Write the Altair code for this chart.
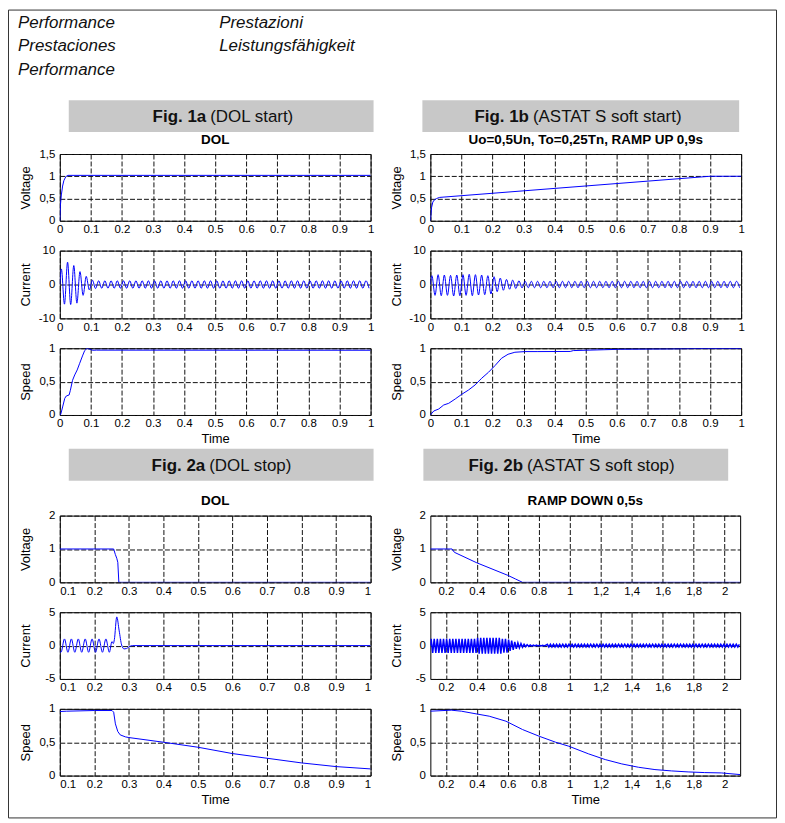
import json
import pandas as pd
import altair as alt

# ---------------- data ----------------
# Fig. 1a  (DOL start)
v1a_t = [0, 0.002, 0.005, 0.009, 0.013, 0.017, 0.021, 0.026, 1.0]
v1a_v = [0, 0.35, 0.58, 0.78, 0.90, 0.96, 1.0, 1.02, 1.02]
i1a_peaks = [4.6, -5.8, 6.6, -5.9, 5.6, -5.5, 3.8, -3.2, 2.4, -1.6, 1.3, -1.2] + [1.1, -1.1] * 44
s1a_t = [0, 0.003, 0.009, 0.016, 0.021, 0.03, 0.034, 0.041, 0.048, 0.056, 0.064, 0.073, 0.08, 0.088, 0.096, 0.105, 0.118, 1.0]
s1a_v = [0, 0.01, 0.12, 0.25, 0.285, 0.30, 0.37, 0.52, 0.60, 0.675, 0.775, 0.885, 0.965, 1.0, 0.985, 0.97, 0.972, 0.97]

# Fig. 1b  (ASTAT S soft start)
v1b_t = [0, 0.002, 0.004, 0.008, 0.013, 0.02, 0.03, 0.9, 1.0]
v1b_v = [0, 0.15, 0.30, 0.42, 0.47, 0.50, 0.525, 1.0, 1.0]
i1b_peaks = ([2.6, -3.2, 2.9, -3.3, 2.8, -3.2, 2.7, -3.4, 2.8, -3.3,
              2.9, -3.2, 3.0, -3.3, 2.9, -3.1, 2.8, -3.0, 2.6, -2.8]
             + [2.3, -2.1, 1.9, -1.7, 1.5, -1.4, 1.3, -1.2, 1.1, -1.0]
             + [0.95, -0.95] * 35)
s1b_t = [0, 0.011, 0.027, 0.043, 0.059, 0.08, 0.101, 0.123, 0.144, 0.165, 0.187, 0.208, 0.229,
         0.25, 0.272, 0.304, 0.346, 0.45, 0.46, 0.613, 0.773, 0.85, 1.0]
s1b_v = [0, 0.06, 0.09, 0.15, 0.175, 0.24, 0.31, 0.375, 0.45, 0.55, 0.64, 0.74, 0.85,
         0.91, 0.94, 0.95, 0.95, 0.952, 0.965, 0.985, 0.99, 0.995, 0.995]

# Fig. 2a  (DOL stop)
v2a_t = [0.1, 0.256, 0.261, 0.265, 0.268, 0.271, 1.0]
v2a_v = [1.0, 1.0, 0.83, 0.72, 0.60, 0.0, 0.0]
i2a_t = [0.1, 0.1035, 0.1135, 0.1235, 0.1335, 0.1435, 0.1535, 0.1635, 0.1735, 0.1835, 0.1935,
         0.2035, 0.2135, 0.2235, 0.2335, 0.2435, 0.251, 0.255, 0.258, 0.265, 0.272, 0.279,
         0.286, 0.293, 0.30, 0.31, 1.0]
i2a_v = [-0.9, -1.0, 1.0, -1.0, 1.0, -1.0, 1.0, -1.0, 1.0, -1.0, 1.0,
         -1.0, 1.0, -1.0, 1.0, -1.0, 0.6, 0.3, 0.9, 4.3, 2.2, 0.1,
         -0.5, -0.45, -0.2, 0.0, 0.0]
s2a_t = [0.1, 0.12, 0.2, 0.2513, 0.256, 0.261, 0.268, 0.275, 0.29, 0.3, 0.4, 0.5, 0.6, 0.7, 0.8, 0.9, 1.0]
s2a_v = [0.96, 0.965, 0.975, 0.975, 0.95, 0.775, 0.66, 0.61, 0.58, 0.57, 0.50, 0.425, 0.33, 0.26, 0.19, 0.135, 0.10]

# Fig. 2b  (ASTAT S soft stop)
v2b_t = [0.1, 0.24, 0.255, 0.4, 0.6, 0.65, 0.695, 2.1]
v2b_v = [1.0, 1.0, 0.9, 0.585, 0.21, 0.1, 0.0, 0.0]
i2b_peaks = ([1.0, -1.1] * 15 + [1.15, -1.2] * 8 + [1.0, -1.05] * 2
             + [0.9, -0.8, 0.75, -0.65, 0.55, -0.5, 0.42, -0.35, 0.3, -0.25, 0.2, -0.17, 0.15,
                -0.12, 0.1, -0.08, 0.07, -0.06, 0.06, -0.05, 0.05, -0.05, 0.05, -0.05, 0.05]
             + [0.2, -0.2] * 62 + [0.2])
s2b_t = [0.1, 0.235, 0.3, 0.395, 0.48, 0.588, 0.695, 0.802, 0.909, 0.994, 1.122, 1.229, 1.336,
         1.443, 1.55, 1.657, 1.764, 1.871, 1.978, 2.1]
s2b_v = [0.965, 0.98, 0.965, 0.925, 0.89, 0.815, 0.69, 0.59, 0.50, 0.44, 0.325, 0.24, 0.175,
         0.125, 0.09, 0.07, 0.055, 0.045, 0.04, 0.015]

HALF_PERIOD = 0.01  # 50 Hz mains

# tick values / labels
x1_vals = [0, 0.1, 0.2, 0.3, 0.4, 0.5, 0.6, 0.7, 0.8, 0.9, 1.0]
x1_labs = ["0", "0.1", "0.2", "0.3", "0.4", "0.5", "0.6", "0.7", "0.8", "0.9", "1"]
x2a_vals = [0.1, 0.2, 0.3, 0.4, 0.5, 0.6, 0.7, 0.8, 0.9, 1.0]
x2a_labs = ["0.1", "0.2", "0.3", "0.4", "0.5", "0.6", "0.7", "0.8", "0.9", "1"]
x2b_vals = [0.2, 0.4, 0.6, 0.8, 1.0, 1.2, 1.4, 1.6, 1.8, 2.0]
x2b_labs = ["0.2", "0.4", "0.6", "0.8", "1", "1,2", "1,4", "1,6", "1,8", "2"]
yv1_vals, yv1_labs = [0, 0.5, 1, 1.5], ["0", "0,5", "1", "1,5"]
yi1_vals, yi1_labs = [-10, 0, 10], ["-10", "0", "10"]
ys_vals, ys_labs = [0, 0.5, 1], ["0", "0,5", "1"]
yv2_vals, yv2_labs = [0, 1, 2], ["0", "1", "2"]
yi2_vals, yi2_labs = [-5, 0, 5], ["-5", "0", "5"]

header_left = ["Performance", "Prestaciones", "Performance"]
header_right = ["Prestazioni", "Leistungsfähigkeit"]

# ---------------- styling ----------------
FONT = "Liberation Sans, Arial, sans-serif"
BLUE = "#0000ff"
BAR = "#c8c8c8"
W = 312


def label_expr(values, labels):
    return f"{json.dumps(labels)}[indexof({json.dumps(values)}, datum.value)]"


def wave(t_first, v_first, t0, peaks):
    t = [t_first] + [round(t0 + HALF_PERIOD * k, 6) for k in range(len(peaks))]
    v = [v_first] + list(peaks)
    return t, v


def plot(t, v, xdom, xv, xl, ydom, yv, yl, ytitle, h, xtitle=None, title=None,
         interp="linear", width=W, flush=False, sw=1):
    df = pd.DataFrame({"t": t, "v": v})
    ch = alt.Chart(df).mark_line(color=BLUE, strokeWidth=sw, interpolate=interp, clip=True).encode(
        x=alt.X("t:Q", scale=alt.Scale(domain=xdom, nice=False, zero=False),
                axis=alt.Axis(values=xv, labelExpr=label_expr(xv, xl), title=xtitle, labelFlush=flush)),
        y=alt.Y("v:Q", scale=alt.Scale(domain=ydom, nice=False, zero=False),
                axis=alt.Axis(values=yv, labelExpr=label_expr(yv, yl), title=ytitle)),
    )
    props = dict(width=width, height=h, view=alt.ViewBackground(stroke="black", strokeWidth=1))
    if title:
        props["title"] = alt.TitleParams(text=title)
    return ch.properties(**props)


one = pd.DataFrame({"a": [0]})


def bar_cell(x1, x2, y1, y2, bold, rest, xb, xr, yb, h):
    base = alt.Chart(one)
    rect = base.mark_rect(color=BAR).encode(x=alt.value(x1), x2=alt.value(x2),
                                            y=alt.value(y1), y2=alt.value(y2))
    t1 = base.mark_text(text=bold, font=FONT, fontSize=17, fontWeight="bold", align="right",
                        baseline="alphabetic", color="#111").encode(x=alt.value(xb), y=alt.value(yb))
    t2 = base.mark_text(text=rest, font=FONT, fontSize=17, align="left",
                        baseline="alphabetic", color="#111").encode(x=alt.value(xr), y=alt.value(yb))
    return alt.layer(rect, t1, t2).properties(width=W, height=h)


# header cell (with page border)
hbase = alt.Chart(one)
border = hbase.mark_rect(fillOpacity=0, stroke="#333", strokeWidth=1).encode(
    x=alt.value(-51.5), x2=alt.value(719.5), y=alt.value(0.5), y2=alt.value(811.5))
hl = [hbase.mark_text(text=s, font=FONT, fontSize=17, fontStyle="italic", align="left",
                      baseline="alphabetic", color="#111").encode(x=alt.value(-42), y=alt.value(18 + 24 * i))
      for i, s in enumerate(header_left)]
hr = [hbase.mark_text(text=s, font=FONT, fontSize=17, fontStyle="italic", align="left",
                      baseline="alphabetic", color="#111").encode(x=alt.value(160), y=alt.value(18 + 24 * i))
      for i, s in enumerate(header_right)]
header = alt.layer(border, *hl, *hr).properties(width=W, height=61)
blank = alt.Chart(one).mark_point(opacity=0).properties(width=W, height=61)

bar1a = bar_cell(9, 315, 0, 32, "Fig. 1a", "(DOL start)", 147, 151, 22, 24)
bar1b = bar_cell(-8, 310, 0, 32, "Fig. 1b", "(ASTAT S soft start)", 99, 103, 22, 24)
bar2a = bar_cell(9, 315, 4, 36, "Fig. 2a", "(DOL stop)", 146, 150, 26, 41)
bar2b = bar_cell(-7, 299, 4, 36, "Fig. 2b", "(ASTAT S soft stop)", 93, 97, 26, 41)

i1a_t, i1a_v = wave(0.0, 0.0, 0.005, i1a_peaks)
i1b_t, i1b_v = wave(0.0, 0.0, 0.005, i1b_peaks)
i2b_t, i2b_v = wave(0.1, 0.0, 0.105, i2b_peaks)

v1a = plot(v1a_t, v1a_v, [0, 1], x1_vals, x1_labs, [0, 1.5], yv1_vals, yv1_labs, "Voltage", 67, title="DOL")
i1a = plot(i1a_t, i1a_v, [0, 1], x1_vals, x1_labs, [-10, 10], yi1_vals, yi1_labs, "Current", 68, interp="monotone")
s1a = plot(s1a_t, s1a_v, [0, 1], x1_vals, x1_labs, [0, 1], ys_vals, ys_labs, "Speed", 67, xtitle="Time")

v1b = plot(v1b_t, v1b_v, [0, 1], x1_vals, x1_labs, [0, 1.5], yv1_vals, yv1_labs, "Voltage", 67,
           title="Uo=0,5Un, To=0,25Tn, RAMP UP 0,9s")
i1b = plot(i1b_t, i1b_v, [0, 1], x1_vals, x1_labs, [-10, 10], yi1_vals, yi1_labs, "Current", 68, interp="monotone")
s1b = plot(s1b_t, s1b_v, [0, 1], x1_vals, x1_labs, [0, 1], ys_vals, ys_labs, "Speed", 67, xtitle="Time")

v2a = plot(v2a_t, v2a_v, [0.1, 1], x2a_vals, x2a_labs, [0, 2], yv2_vals, yv2_labs, "Voltage", 67,
           title="DOL", flush=True)
i2a = plot(i2a_t, i2a_v, [0.1, 1], x2a_vals, x2a_labs, [-5, 5], yi2_vals, yi2_labs, "Current", 67,
           interp="monotone", flush=True)
s2a = plot(s2a_t, s2a_v, [0.1, 1], x2a_vals, x2a_labs, [0, 1], ys_vals, ys_labs, "Speed", 67,
           xtitle="Time", flush=True)

v2b = plot(v2b_t, v2b_v, [0.1, 2.1], x2b_vals, x2b_labs, [0, 2], yv2_vals, yv2_labs, "Voltage", 67,
           title="RAMP DOWN 0,5s", width=311)
i2b = plot(i2b_t, i2b_v, [0.1, 2.1], x2b_vals, x2b_labs, [-5, 5], yi2_vals, yi2_labs, "Current", 67,
           interp="linear", width=311, sw=1.5)
s2b = plot(s2b_t, s2b_v, [0.1, 2.1], x2b_vals, x2b_labs, [0, 1], ys_vals, ys_labs, "Speed", 67,
           xtitle="Time", width=311)

cells = [header, blank, bar1a, bar1b, v1a, v1b, i1a, i1b, s1a, s1b,
         bar2a, bar2b, v2a, v2b, i2a, i2b, s2a, s2b]

chart = alt.concat(*cells, columns=2, spacing={"row": 30, "column": 60},
                   bounds="flush", align="each").properties(padding=0)

chart = (chart
         .configure_view(stroke=None)
         .configure_axis(domain=False, ticks=False, grid=True, gridColor="#111", gridDash=[5, 2],
                         gridWidth=1, gridOpacity=1, labelFont=FONT, labelFontSize=11.5,
                         labelColor="black", labelOverlap=False,
                         titleFont=FONT, titleFontSize=13, titleFontWeight="normal", titleColor="black")
         .configure_axisX(labelPadding=3, minExtent=15, maxExtent=15, titlePadding=3)
         .configure_axisY(labelPadding=5, minExtent=20, maxExtent=20, titlePadding=7, labelFlush=False)
         .configure_title(font=FONT, fontSize=13.5, fontWeight="bold", color="black", offset=2)
         )

chart.save("out.html", embed_options={"renderer": "svg", "actions": False})
